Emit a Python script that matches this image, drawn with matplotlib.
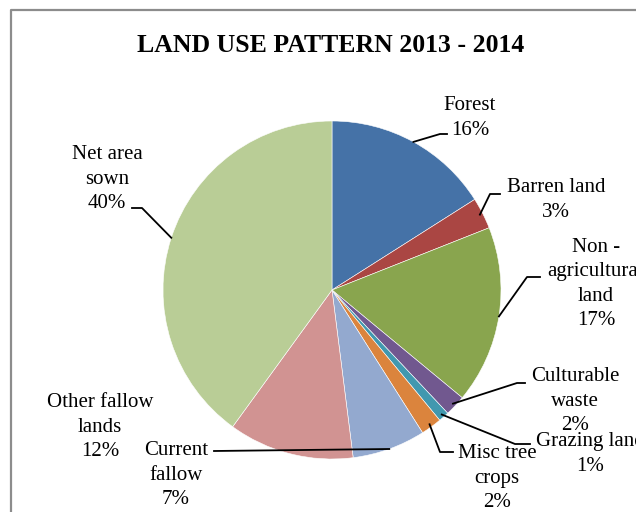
import numpy as np
import matplotlib
matplotlib.use("Agg")
import matplotlib.pyplot as plt

labels = ["Forest", "Barren land", "Non -\nagricultural\nland", "Culturable\nwaste",
          "Grazing land", "Misc tree\ncrops", "Current\nfallow", "Other fallow\nlands",
          "Net area\nsown"]
shares = [16, 3, 17, 2, 1, 2, 7, 12, 40]
colors = ["#4572A7", "#AA4643", "#89A54E", "#71588F", "#4198AF",
          "#DB843D", "#93A9CF", "#D19392", "#B9CD96"]

W, H = 636, 512
plt.rcParams['font.family'] = ['Liberation Serif', 'DejaVu Serif']

fig = plt.figure(figsize=(W / 100, H / 100), dpi=100)
ax = fig.add_axes([0, 0, 1, 1])

def P(x, y):
    # image pixel coords -> axes coords
    return x, H - y

cx, cy = P(332, 290)
R = 169
wedges, _ = ax.pie(shares, colors=colors, startangle=90, counterclock=False,
                   center=(cx, cy), radius=R, frame=True,
                   wedgeprops=dict(edgecolor="white", linewidth=0.4))
ax.set_xlim(0, W)
ax.set_ylim(0, H)
ax.set_aspect("equal")
ax.axis("off")

# chart border (cropped on right / bottom)
ax.plot([11, 11, W + 5], [-5, H - 10, H - 10], color="#8c8c8c", lw=1.6, clip_on=False)

ax.text(*P(331, 45), "LAND USE PATTERN 2013 - 2014", ha="center", va="center",
        fontsize=18.5, fontweight="bold")

# label text centre, elbow point, end of leader near text (pixel coords)
layout = [
    ((470, 118), (440, 134), (447, 134)),
    ((556, 200), (490, 194), (500, 194)),
    ((596, 284), (527, 277), (540, 277)),
    ((575, 401), (517, 383), (525, 383)),
    ((590, 454), (515, 444), (530, 444)),
    ((497, 478), (440, 452), (453, 452)),
    ((176, 475), (214, 451), (214, 451)),
    ((100, 427), None, None),
    ((107, 179), (142, 208), (132, 208)),
]

for w, lab, s, (tpos, elbow, end) in zip(wedges, labels, shares, layout):
    ax.text(*P(*tpos), f"{lab}\n{s}%", ha="center", va="center", fontsize=15,
            linespacing=1.36, clip_on=False)
    if elbow is None:
        continue
    mid = np.deg2rad((w.theta1 + w.theta2) / 2)
    rr = R - 3 if s < 5 else R
    sx, sy = cx + rr * np.cos(mid), cy + rr * np.sin(mid)
    ex, ey = P(*elbow)
    nx, ny = P(*end)
    ax.plot([sx, ex, nx], [sy, ey, ny], color="black", lw=1.3)

fig.savefig("out.png", dpi=100)
